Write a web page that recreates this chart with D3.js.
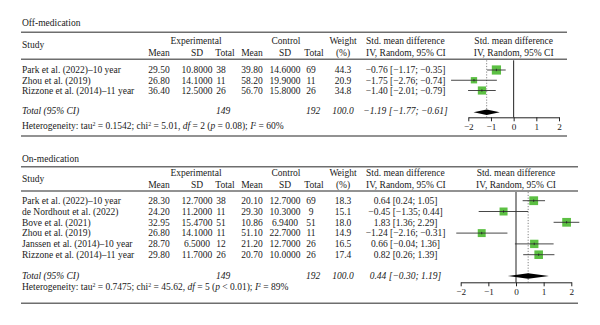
<!DOCTYPE html>
<html><head><meta charset="utf-8">
<script src="https://cdn.jsdelivr.net/npm/d3@7"></script>
<style>
html,body{margin:0;padding:0;background:#fff;}
svg text{font-family:"Liberation Serif","DejaVu Serif",serif;fill:#1a1a1a;}
</style></head>
<body><svg id="c" width="600" height="325"></svg>
<script>
// ---------- data ----------
const ticks = [-2, -1, 0, 1, 2];

const offStudies = ["Park et al. (2022)–10 year", "Zhou et al. (2019)", "Rizzone et al. (2014)–11 year"];
const offExpMean = [29.50, 26.80, 36.40];
const offExpSD = [10.8, 14.1, 12.5];
const offExpN = [38, 11, 26];
const offCtlMean = [39.80, 58.20, 56.70];
const offCtlSD = [14.6, 19.9, 15.8];
const offCtlN = [69, 11, 26];
const offWeight = [44.3, 20.9, 34.8];
const offSMD = [-0.76, -1.75, -1.40];
const offLo = [-1.17, -2.76, -2.01];
const offHi = [-0.35, -0.74, -0.79];
const offTotal = {expN: 149, ctlN: 192, weight: 100.0, smd: -1.19, lo: -1.77, hi: -0.61};
const offHet = {tau2: "0.1542", chi2: "5.01", df: 2, p: "= 0.08", i2: 60};

const onStudies = ["Park et al. (2022)–10 year", "de Nordhout et al. (2022)", "Bove et al. (2021)", "Zhou et al. (2019)", "Janssen et al. (2014)–10 year", "Rizzone et al. (2014)–11 year"];
const onExpMean = [28.30, 24.20, 32.95, 26.80, 28.70, 29.80];
const onExpSD = [12.7, 11.2, 15.47, 14.1, 6.5, 11.7];
const onExpN = [38, 11, 51, 11, 12, 26];
const onCtlMean = [20.10, 29.30, 10.86, 51.10, 21.20, 20.70];
const onCtlSD = [12.7, 10.3, 6.94, 22.7, 12.7, 10.0];
const onCtlN = [69, 9, 51, 11, 26, 26];
const onWeight = [18.3, 15.1, 18.0, 14.9, 16.5, 17.4];
const onSMD = [0.64, -0.45, 1.83, -1.24, 0.66, 0.82];
const onLo = [0.24, -1.35, 1.36, -2.16, -0.04, 0.26];
const onHi = [1.05, 0.44, 2.29, -0.31, 1.36, 1.39];
const onTotal = {expN: 149, ctlN: 192, weight: 100.0, smd: 0.44, lo: -0.30, hi: 1.19};
const onHet = {tau2: "0.7475", chi2: "45.62", df: 5, p: "< 0.01", i2: 89};

// ---------- layout ----------
const svg = d3.select("#c");
const FS = 9.5;
const f2 = d3.format(".2f"), f4 = d3.format(".4f"), f1 = d3.format(".1f");
const ci = (m, l, h) => `${f2(m)} [${f2(l)}; ${f2(h)}]`;
const col = {study: 22, eMean: 159, eSD: 197, eN: 221, eNh: 225, cMean: 252, cSD: 285, cN: 311, cNh: 314, w: 343, smdL: 366, smd: 405.5};

function txt(g, x, y, s, anchor, opts = {}) {
  const t = g.append("text").attr("x", x).attr("y", y).attr("dy", "0.35em")
    .attr("font-size", opts.fs || FS).attr("text-anchor", anchor || "start").text(s);
  if (opts.italic) t.attr("font-style", "italic");
  return t;
}

function section(cfg) {
  const g = svg.append("g");
  const L = cfg.lay;
  txt(g, col.study, L.title, cfg.title, "start");
  const rule = (y) => g.append("line").attr("x1", 21).attr("x2", L.ruleR).attr("y1", y).attr("y2", y)
    .attr("stroke", "#6e6e6e").attr("stroke-width", 1.4);
  rule(L.rTop); rule(L.rHead); rule(L.rBot);
  txt(g, col.study, L.study, "Study");
  txt(g, 196, L.h1, "Experimental", "middle");
  txt(g, 286, L.h1, "Control", "middle");
  txt(g, col.w, L.h1, "Weight", "middle");
  txt(g, col.w, L.h2, "(%)", "middle");
  txt(g, col.smdL, L.h1, "Std. mean difference");
  txt(g, col.smdL, L.h2, "IV, Random, 95% CI");
  txt(g, L.plotC, L.h1, "Std. mean difference", "middle");
  txt(g, L.plotC, L.h2, "IV, Random, 95% CI", "middle");
  [["Mean", col.eMean], ["SD", col.eSD], ["Total", col.eNh], ["Mean", col.cMean], ["SD", col.cSD], ["Total", col.cNh]]
    .forEach(([s, x]) => txt(g, x, L.h2, s, "middle"));

  const y = d3.scalePoint().domain(cfg.studies).range([L.row0, L.row1]);
  const x = d3.scaleLinear().domain([ticks[0], ticks[ticks.length - 1]]).range(L.xr);

  cfg.studies.forEach((s, i) => {
    const yy = y(s);
    txt(g, col.study, yy, s);
    txt(g, col.eMean, yy, f2(cfg.eMean[i]), "middle");
    txt(g, col.eSD, yy, f4(cfg.eSD[i]), "middle");
    txt(g, col.eN, yy, cfg.eN[i], "middle");
    txt(g, col.cMean, yy, f2(cfg.cMean[i]), "middle");
    txt(g, col.cSD, yy, f4(cfg.cSD[i]), "middle");
    txt(g, col.cN, yy, cfg.cN[i], "middle");
    txt(g, col.w, yy, f1(cfg.weight[i]), "middle");
    txt(g, col.smd, yy, ci(cfg.smd[i], cfg.lo[i], cfg.hi[i]), "middle");
  });
  const T = cfg.total;
  txt(g, col.study, L.total, "Total (95% CI)", "start", {italic: true});
  txt(g, col.eNh - 2, L.total, T.expN, "middle", {italic: true});
  txt(g, col.cNh - 1, L.total, T.ctlN, "middle", {italic: true});
  txt(g, col.w, L.total, f1(T.weight), "middle", {italic: true});
  txt(g, col.smd, L.total, ci(T.smd, T.lo, T.hi), "middle", {italic: true});
  const H = cfg.het;
  const ht = g.append("text").attr("x", col.study).attr("y", L.het).attr("dy", "0.35em").attr("font-size", FS);
  ht.append("tspan").text(`Heterogeneity: tau`);
  ht.append("tspan").attr("font-size", FS * 0.62).attr("dy", "-0.5em").text("2");
  ht.append("tspan").attr("dy", "0.31em").text(` = ${H.tau2}; chi`);
  ht.append("tspan").attr("font-size", FS * 0.62).attr("dy", "-0.5em").text("2");
  ht.append("tspan").attr("dy", "0.31em").text(` = ${H.chi2}, `);
  ht.append("tspan").attr("font-style", "italic").text("df");
  ht.append("tspan").text(` = ${H.df} (`);
  ht.append("tspan").attr("font-style", "italic").text("p");
  ht.append("tspan").text(` ${H.p}); `);
  ht.append("tspan").attr("font-style", "italic").text("I");
  ht.append("tspan").attr("font-size", FS * 0.62).attr("dy", "-0.5em").text("2");
  ht.append("tspan").attr("dy", "0.31em").text(` = ${H.i2}%`);

  const pg = g.append("g");
  pg.append("line").attr("x1", x(T.smd)).attr("x2", x(T.smd)).attr("y1", L.rHead + 1).attr("y2", L.axis)
    .attr("stroke", "#777").attr("stroke-width", 0.9).attr("stroke-dasharray", "1.2,1.6");
  pg.append("line").attr("x1", x(0)).attr("x2", x(0)).attr("y1", L.rHead + 1).attr("y2", L.axis)
    .attr("stroke", "#222").attr("stroke-width", 1);
  const wmax = d3.max(cfg.weight);
  cfg.studies.forEach((s, i) => {
    const yy = y(s), side = L.maxSide * Math.sqrt(cfg.weight[i] / wmax);
    pg.append("rect").attr("x", x(cfg.smd[i]) - side / 2).attr("y", yy - side / 2)
      .attr("width", side).attr("height", side).attr("fill", "#5cc043");
    pg.append("line").attr("x1", x(cfg.lo[i])).attr("x2", x(cfg.hi[i])).attr("y1", yy).attr("y2", yy)
      .attr("stroke", "#333").attr("stroke-width", 0.9);
    pg.append("line").attr("x1", x(cfg.smd[i])).attr("x2", x(cfg.smd[i])).attr("y1", yy - 1.2).attr("y2", yy + 1.2)
      .attr("stroke", "#222").attr("stroke-width", 0.8);
  });
  const dh = 2.8, dy = L.diamond;
  pg.append("path").attr("d", `M${x(T.lo)},${dy}L${x(T.smd)},${dy - dh}L${x(T.hi)},${dy}L${x(T.smd)},${dy + dh}Z`)
    .attr("fill", "#000");
  const ax = pg.append("g").attr("transform", `translate(0,${L.axis})`)
    .call(d3.axisBottom(x).tickValues(ticks).tickSize(4).tickSizeOuter(0).tickPadding(2).tickFormat(d3.format("d")));
  ax.select(".domain").attr("stroke", "#222");
  ax.selectAll(".tick line").attr("stroke", "#222");
  ax.selectAll(".tick text").attr("font-size", 9.2).attr("fill", "#1a1a1a")
    .attr("font-family", '"Liberation Serif","DejaVu Serif",serif');
}

section({
  title: "Off-medication", studies: offStudies, eMean: offExpMean, eSD: offExpSD, eN: offExpN,
  cMean: offCtlMean, cSD: offCtlSD, cN: offCtlN, weight: offWeight, smd: offSMD, lo: offLo, hi: offHi,
  total: offTotal, het: offHet,
  lay: {title: 23, rTop: 32.3, h1: 40.7, study: 44.3, h2: 52.3, rHead: 59.3, row0: 70, row1: 90.5,
    total: 111, het: 126, rBot: 136, ruleR: 567, plotC: 513.7, xr: [468.3, 559], axis: 117.3, diamond: 112.3, maxSide: 9.2}
});
section({
  title: "On-medication", studies: onStudies, eMean: onExpMean, eSD: onExpSD, eN: onExpN,
  cMean: onCtlMean, cSD: onCtlSD, cN: onCtlN, weight: onWeight, smd: onSMD, lo: onLo, hi: onHi,
  total: onTotal, het: onHet,
  lay: {title: 158.3, rTop: 166.7, h1: 172.6, study: 178.3, h2: 184.3, rHead: 191, row0: 200.7, row1: 254.7,
    total: 275.7, het: 286.7, rBot: 303.3, ruleR: 578, plotC: 516, xr: [460.7, 571.3], axis: 282.3, diamond: 276, maxSide: 8.8}
});
</script></body></html>
